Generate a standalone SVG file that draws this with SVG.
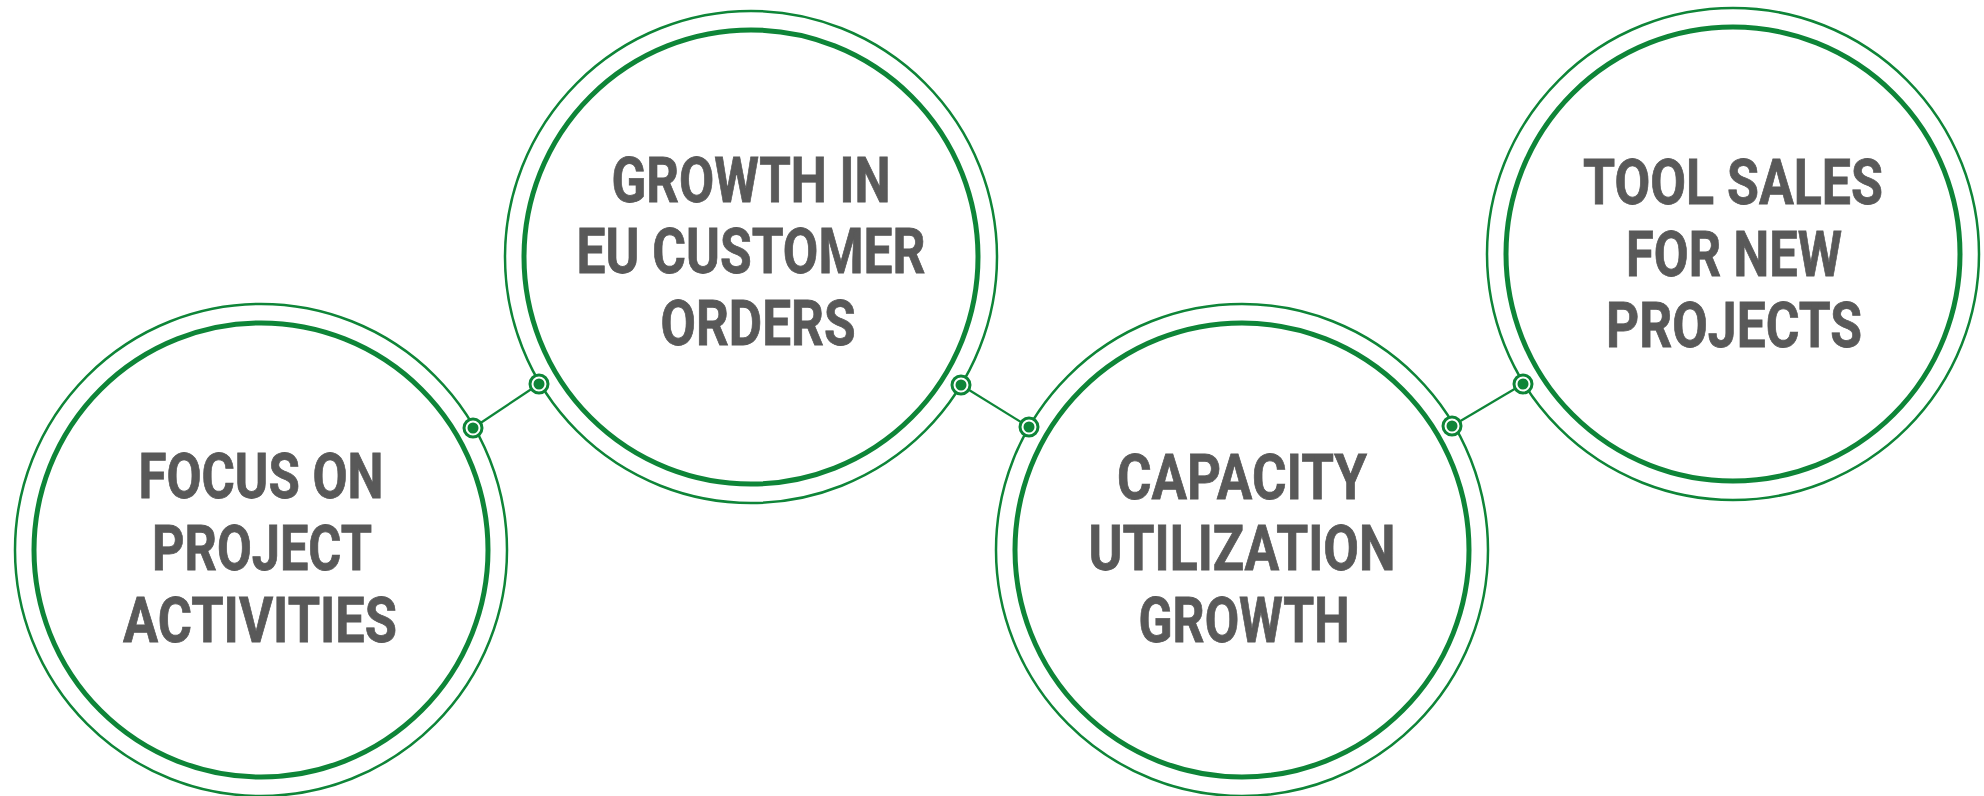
<svg xmlns="http://www.w3.org/2000/svg" width="1984" height="796" viewBox="0 0 1984 796">
<style>
.outer{fill:none;stroke:#0e8538;stroke-width:2.5}
.inner{fill:none;stroke:#0e8538;stroke-width:5}
.lbl{font-family:Roboto,"Liberation Sans",sans-serif;font-weight:700;font-size:63px;fill:#595959;stroke:#595959;stroke-width:0.8;text-anchor:middle}
.conn line{stroke:#0e8538;stroke-width:2.2}
.ring{fill:#ffffff;stroke:#0e8538;stroke-width:3}
.dot{fill:#0e8538}
</style>
<rect width="1984" height="796" fill="#ffffff"/>
<g id="node1">
<circle class="outer" cx="261" cy="550" r="246"/>
<circle class="inner" cx="261" cy="550" r="227"/>
<text class="lbl" x="261" y="498" textLength="245" lengthAdjust="spacingAndGlyphs">FOCUS ON</text>
<text class="lbl" x="262" y="570" textLength="220" lengthAdjust="spacingAndGlyphs">PROJECT</text>
<text class="lbl" x="260" y="642" textLength="274" lengthAdjust="spacingAndGlyphs">ACTIVITIES</text>
</g>
<g id="node2">
<circle class="outer" cx="751" cy="257" r="246"/>
<circle class="inner" cx="751" cy="257" r="227"/>
<text class="lbl" x="751" y="202" textLength="279" lengthAdjust="spacingAndGlyphs">GROWTH IN</text>
<text class="lbl" x="751" y="273" textLength="349" lengthAdjust="spacingAndGlyphs">EU CUSTOMER</text>
<text class="lbl" x="758" y="345" textLength="195" lengthAdjust="spacingAndGlyphs">ORDERS</text>
</g>
<g id="node3">
<circle class="outer" cx="1242" cy="550" r="246"/>
<circle class="inner" cx="1242" cy="550" r="227"/>
<text class="lbl" x="1242" y="499" textLength="250" lengthAdjust="spacingAndGlyphs">CAPACITY</text>
<text class="lbl" x="1242" y="570" textLength="307" lengthAdjust="spacingAndGlyphs">UTILIZATION</text>
<text class="lbl" x="1244" y="642" textLength="211" lengthAdjust="spacingAndGlyphs">GROWTH</text>
</g>
<g id="node4">
<circle class="outer" cx="1733" cy="254" r="246"/>
<circle class="inner" cx="1733" cy="254" r="227"/>
<text class="lbl" x="1733" y="204" textLength="300" lengthAdjust="spacingAndGlyphs">TOOL SALES</text>
<text class="lbl" x="1734" y="276" textLength="216" lengthAdjust="spacingAndGlyphs">FOR NEW</text>
<text class="lbl" x="1734" y="347" textLength="256" lengthAdjust="spacingAndGlyphs">PROJECTS</text>
</g>
<g id="connectors" class="conn">
<line x1="473" y1="428" x2="539" y2="384"/>
<line x1="961" y1="385" x2="1029" y2="427"/>
<line x1="1452" y1="426" x2="1523" y2="384"/>
<circle class="ring" cx="473" cy="428" r="9"/><circle class="dot" cx="473" cy="428" r="5.5"/>
<circle class="ring" cx="539" cy="384" r="9"/><circle class="dot" cx="539" cy="384" r="5.5"/>
<circle class="ring" cx="961" cy="385" r="9"/><circle class="dot" cx="961" cy="385" r="5.5"/>
<circle class="ring" cx="1029" cy="427" r="9"/><circle class="dot" cx="1029" cy="427" r="5.5"/>
<circle class="ring" cx="1452" cy="426" r="9"/><circle class="dot" cx="1452" cy="426" r="5.5"/>
<circle class="ring" cx="1523" cy="384" r="9"/><circle class="dot" cx="1523" cy="384" r="5.5"/>
</g>
</svg>
